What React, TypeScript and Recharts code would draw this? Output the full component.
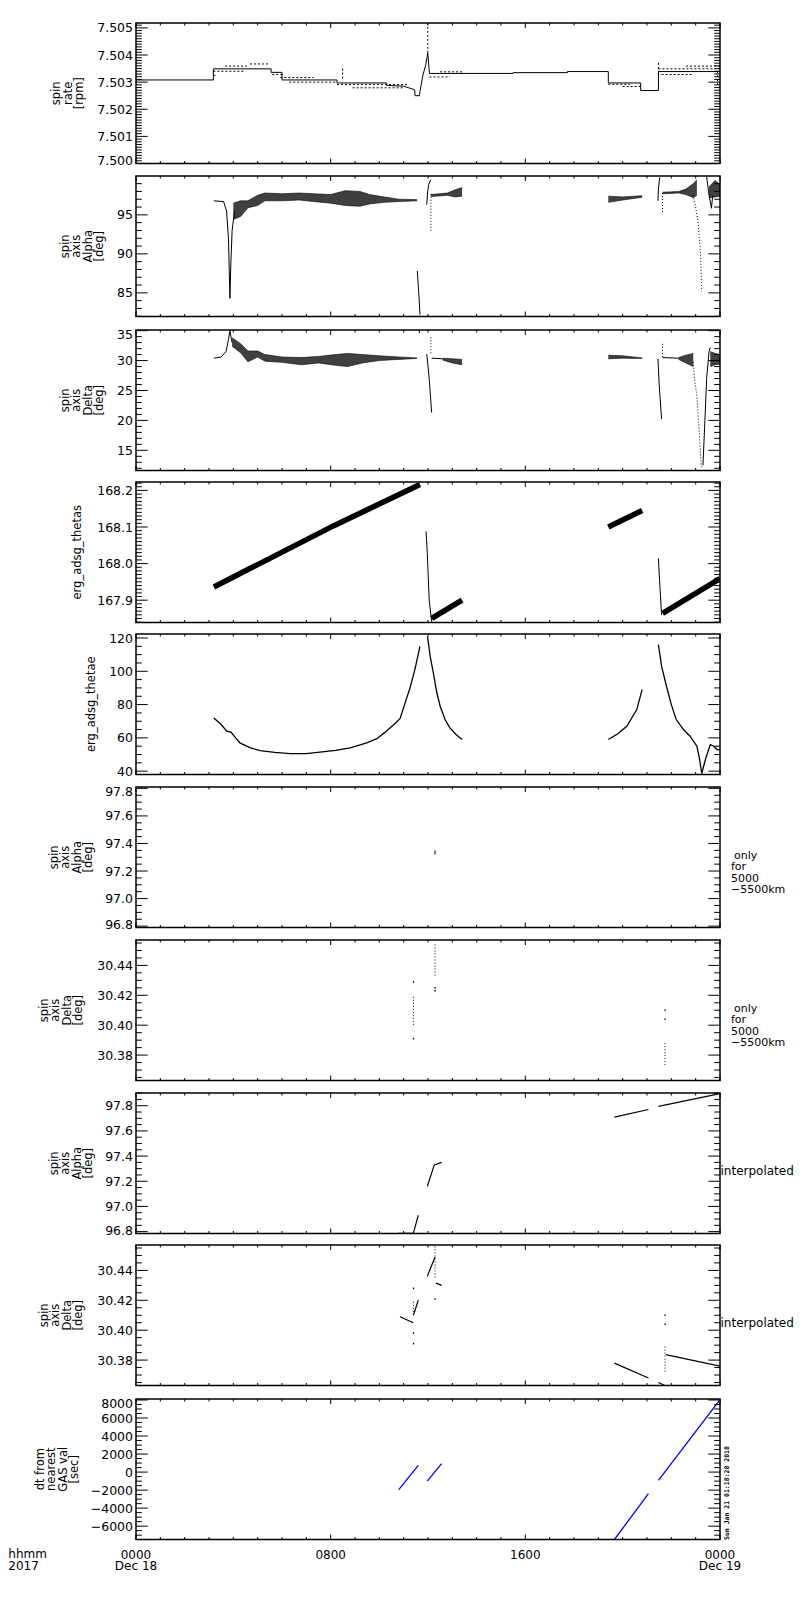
import React from "react";
import { ComposedChart, Line, Area, Scatter, XAxis, YAxis, ReferenceArea } from "recharts";

const FONT = "'DejaVu Sans', sans-serif";
const PLOT_L = 136;
const PLOT_R = 720;
const PLOT_H = 140.5;
const MT = 10;
const TOPS = [23, 176, 330, 482, 634, 787, 940, 1093, 1245, 1399];

type Pt = [number, number];
type Band = [number, number, number];
type Seg = [number, number, number, number];

// hours of the day
const HOUR_MAJOR = [0, 8, 16, 24];
const HOUR_MINOR = [1, 2, 3, 4, 5, 6, 7, 9, 10, 11, 12, 13, 14, 15, 17, 18, 19, 20, 21, 22, 23];
const HOUR_TEXT: Record<number, string[]> = {
  0: ["0000", "Dec 18"],
  8: ["0800"],
  16: ["1600"],
  24: ["0000", "Dec 19"],
};

// panel 1: spin rate [rpm]
const RATE_MAIN: Pt[] = [
  [0, 7.50308], [3.18, 7.50308], [3.18, 7.50349], [5.55, 7.50349], [5.55, 7.50336], [6.0, 7.50336],
  [6.0, 7.50308], [8.26, 7.50308], [8.26, 7.50297], [10.3, 7.50297], [10.3, 7.50288], [11.0, 7.50285],
  [11.45, 7.50272], [11.47, 7.5025], [11.65, 7.5025], [11.67, 7.50266], [11.8, 7.5033], [11.9, 7.5036],
  [11.99, 7.50408], [12.06, 7.50332], [15.5, 7.50332], [15.5, 7.50335], [17.73, 7.50335], [17.73, 7.50339],
  [19.41, 7.50339], [19.41, 7.50297], [20.74, 7.50297], [20.74, 7.50269], [21.47, 7.50269], [21.47, 7.50339],
  [24, 7.50339],
];
const RATE_DOTS: Seg[] = [
  [3.18, 7.5034, 4.48, 7.5034], [3.66, 7.50359, 4.55, 7.50359], [4.69, 7.50367, 5.5, 7.50367],
  [3.18, 7.50325, 3.3, 7.50325], [5.6, 7.50328, 6.1, 7.50328], [5.93, 7.50317, 7.3, 7.50317],
  [6.3, 7.503, 8.26, 7.503], [8.26, 7.50291, 11.2, 7.50291], [8.9, 7.50279, 11.0, 7.50279],
  [12.06, 7.50319, 12.9, 7.50319], [12.5, 7.50338, 13.4, 7.50338], [19.41, 7.50292, 20.3, 7.50292],
  [20.0, 7.50284, 20.74, 7.50284], [21.47, 7.50349, 24, 7.50349], [22.6, 7.50359, 24, 7.50359],
  [21.6, 7.50328, 22.9, 7.50328], [8.49, 7.5035, 8.49, 7.50305], [11.99, 7.50408, 11.99, 7.50518],
  [21.47, 7.50371, 21.47, 7.50339], [23.9, 7.5034, 23.9, 7.5029],
];

// panel 2: spin axis alpha [deg]
const ALPHA_BANDS: Band[][] = [
  [[4.0, 94.4, 96.5], [4.3, 94.8, 96.8], [4.6, 95.9, 96.8], [5.0, 96.2, 97.5], [5.3, 96.8, 97.8], [6.0, 96.8, 97.7],
    [6.7, 96.9, 97.8], [7.3, 96.7, 97.7], [8.0, 96.5, 97.6], [8.6, 96.2, 98.1], [9.2, 96.1, 98.0], [9.6, 96.4, 97.6],
    [10.2, 96.6, 97.3], [10.8, 96.7, 97.0], [11.55, 96.8, 96.95]],
  [[12.12, 97.35, 97.6], [12.8, 97.5, 97.8], [13.1, 97.3, 98.2], [13.4, 97.4, 98.5]],
  [[19.41, 96.6, 97.4], [20.0, 96.9, 97.3], [20.8, 97.25, 97.45]],
  [[21.64, 97.7, 97.9], [22.3, 97.8, 98.0], [22.6, 97.6, 98.3], [22.9, 97.2, 99.0], [23.05, 97.5, 99.5]],
  [[23.55, 97.2, 98.6], [23.8, 97.3, 99.4], [24, 97.4, 98.9]],
];
const ALPHA_LINES: Pt[][] = [
  [[3.2, 96.8], [3.6, 96.7], [3.72, 95.5], [3.8, 92], [3.86, 84.3], [3.9, 89], [3.95, 93], [4.05, 95.5]],
  [[11.56, 87.8], [11.62, 85], [11.67, 82.2]],
  [[11.95, 96.3], [11.98, 97.8], [12.03, 98.9], [12.11, 99.5]],
  [[21.45, 96.8], [21.47, 98.3], [21.52, 99.8]],
  [[23.45, 99.9], [23.55, 97.5], [23.65, 95.85], [23.7, 97.5]],
];
const ALPHA_DOTS: Pt[][] = [
  [[12.12, 97.7], [12.12, 92.7]],
  [[21.64, 97.8], [21.64, 95.2]],
  [[22.9, 97.5], [23.0, 96], [23.1, 94], [23.2, 90], [23.25, 85.2]],
];

// panel 3: spin axis delta [deg]
const DELTA_BANDS: Band[][] = [
  [[3.95, 32.4, 33.8], [4.3, 31.3, 32.8], [4.6, 29.8, 31.6], [5.0, 30.6, 31.6], [5.3, 29.9, 31.0], [6.0, 29.7, 30.6],
    [6.8, 29.3, 30.5], [7.5, 29.6, 30.7], [8.2, 29.2, 31.0], [8.7, 29.0, 31.2], [9.3, 29.6, 31.0], [10.0, 30.0, 30.8],
    [10.8, 30.2, 30.6], [11.55, 30.35, 30.45]],
  [[12.6, 30.1, 30.4], [13.0, 29.6, 30.3], [13.4, 29.3, 30.2]],
  [[19.41, 30.3, 30.9], [20.0, 30.4, 30.8], [20.8, 30.35, 30.45]],
  [[22.3, 30.2, 30.5], [22.6, 29.6, 30.9], [22.9, 29.0, 31.2]],
  [[23.6, 29.0, 31.5], [23.8, 29.3, 31.2], [24, 29.4, 31.0]],
];
const DELTA_LINES: Pt[][] = [
  [[3.2, 30.4], [3.5, 30.6], [3.7, 31.5], [3.8, 33.5], [3.86, 35.0], [3.92, 33.6], [3.95, 33.0]],
  [[11.62, 35.1], [11.66, 34.6]],
  [[11.95, 31.1], [12.05, 27], [12.15, 21.3]],
  [[12.15, 30.4], [12.6, 30.3]],
  [[21.45, 30.3], [21.5, 26], [21.6, 20.2]],
  [[21.64, 30.5], [22.3, 30.4]],
  [[23.3, 12.5], [23.38, 20], [23.45, 27], [23.55, 31.5], [23.6, 32.2]],
];
const DELTA_DOTS: Pt[][] = [
  [[12.12, 33.9], [12.12, 31.0]],
  [[21.64, 32.8], [21.64, 30.5]],
  [[22.9, 29.8], [22.95, 27], [23.05, 24], [23.15, 18], [23.22, 13], [23.26, 12.0]],
];

// panel 4: erg_adsg_thetas
const THETAS_BANDS: Pt[][] = [
  [[3.2, 167.936], [8.11, 168.103], [11.67, 168.216]],
  [[12.15, 167.85], [13.4, 167.9]],
  [[19.41, 168.1], [20.8, 168.145]],
  [[21.64, 167.864], [24, 167.959]],
];
const THETAS_DROPS: Pt[][] = [
  [[11.92, 168.088], [11.97, 168.03], [12.05, 167.9], [12.15, 167.841]],
  [[21.47, 168.014], [21.52, 167.95], [21.6, 167.859]],
];

// panel 5: erg_adsg_thetae
const THETAE_LINES: Pt[][] = [
  [[3.2, 72], [3.5, 68], [3.73, 64], [3.9, 63.5], [4.27, 57], [4.7, 54], [5.1, 52.4], [5.7, 51.3], [6.33, 50.6],
    [7.0, 50.6], [7.56, 51.4], [8.2, 52.5], [8.8, 54], [9.48, 57], [9.9, 59.5], [10.2, 63], [10.6, 68], [10.85, 71.5],
    [11.26, 90], [11.46, 101], [11.67, 115]],
  [[11.98, 121], [12.1, 108], [12.22, 99], [12.35, 88], [12.5, 79], [12.7, 71], [12.9, 66], [13.15, 62], [13.4, 59]],
  [[19.41, 59], [19.8, 62.5], [20.17, 67], [20.58, 77], [20.8, 89]],
  [[21.47, 116], [21.6, 103], [21.8, 91], [22.0, 80], [22.2, 71], [22.5, 65], [22.77, 61], [23.05, 55], [23.15, 48],
    [23.25, 38.6], [23.4, 47], [23.6, 56], [23.75, 55], [23.87, 53], [24, 53]],
];

// panel 6: alpha, only for 5000-5500km
const ALPHA_SEL: Seg[] = [[12.29, 97.35, 12.29, 97.32]];

// panel 7: delta, only for 5000-5500km
const DELTA_SEL_RUNS: Seg[] = [
  [11.4, 30.419, 11.4, 30.399], [12.29, 30.454, 12.29, 30.433], [21.74, 30.388, 21.74, 30.372],
];
const DELTA_SEL_DOTS: Pt[] = [
  [11.4, 30.429], [11.4, 30.391], [12.29, 30.425], [12.29, 30.423], [21.74, 30.41], [21.74, 30.404],
];

// panel 8: alpha, interpolated
const ALPHA_INT: Pt[][] = [
  [[10.77, 96.787], [11.4, 96.787], [11.6, 96.93]],
  [[11.97, 97.16], [12.26, 97.33], [12.56, 97.35]],
  [[19.66, 97.71], [21.06, 97.77]],
  [[21.47, 97.795], [24, 97.896]],
];

// panel 9: delta, interpolated
const DELTA_INT: Pt[][] = [
  [[10.85, 30.409], [11.4, 30.405]],
  [[11.4, 30.41], [11.6, 30.42]],
  [[11.97, 30.436], [12.29, 30.449]],
  [[12.33, 30.4315], [12.56, 30.43]],
  [[19.66, 30.378], [21.06, 30.368]],
  [[21.47, 30.365], [21.77, 30.3627]],
  [[21.77, 30.3837], [24, 30.376]],
];
const DELTA_INT_RUNS: Seg[] = [
  [11.4, 30.419, 11.4, 30.411], [12.29, 30.456, 12.29, 30.434], [21.74, 30.389, 21.74, 30.372],
];
const DELTA_INT_DOTS: Pt[] = [
  [11.4, 30.428], [11.4, 30.398], [11.4, 30.391], [12.29, 30.421], [21.74, 30.41], [21.74, 30.404],
];

// panel 10: dt from nearest GAS val [sec]
const DT_LINES: Pt[][] = [
  [[10.8, -1950], [11.6, 740]],
  [[11.97, -1000], [12.56, 930]],
  [[19.66, -7480], [21.06, -2400]],
  [[21.47, -920], [24, 8040]],
];

const range = (a: number, b: number, step: number) => {
  const out: number[] = [];
  const n = Math.round((b - a) / step);
  for (let i = 0; i <= n; i++) out.push(+(a + i * step).toFixed(6));
  return out;
};

const toPts = (pts: Pt[]) => pts.map(([h, v]) => ({ h, v }));

function lines(list: Pt[][], key: string, extra: Record<string, any> = {}) {
  return list.map((pts, i) => (
    <Line
      key={key + i}
      data={toPts(pts)}
      dataKey="v"
      type="linear"
      dot={false}
      activeDot={false}
      stroke="#000"
      strokeWidth={1}
      isAnimationActive={false}
      {...extra}
    />
  ));
}

const segs = (list: Seg[], key: string, extra: Record<string, any> = {}) =>
  lines(list.map(([a, b, c, d]) => [[a, b], [c, d]] as Pt[]), key, extra);

function bands(list: Band[][], key: string) {
  return list.map((b, i) => (
    <Area
      key={key + i}
      data={b.map(([h, lo, hi]) => ({ h, r: [lo, hi] }))}
      dataKey="r"
      type="linear"
      stroke="#000"
      strokeWidth={0.6}
      fill="#000"
      fillOpacity={0.75}
      dot={false}
      activeDot={false}
      isAnimationActive={false}
    />
  ));
}

function dots(list: Pt[], key: string) {
  return (
    <Scatter
      key={key}
      data={toPts(list)}
      dataKey="v"
      isAnimationActive={false}
      shape={(p: any) => <rect x={p.cx - 0.6} y={p.cy - 0.8} width={1.3} height={1.6} fill="#000" />}
    />
  );
}

type PanelProps = {
  top: number;
  domain: [number, number];
  major: number[];
  minor: number[];
  fmt: (v: number) => string;
  last?: boolean;
  children: React.ReactNode;
};

function Panel({ top, domain, major, minor, fmt, last = false, children }: PanelProps) {
  const xh = last ? 60 : 8;
  const height = MT + PLOT_H + xh;
  const pTop = MT;
  const pBot = MT + PLOT_H;
  const tol = (minor[1] - minor[0]) * 0.1;

  const yTick = (props: any) => {
    const { y, payload } = props;
    const isMajor = major.some((m) => Math.abs(m - payload.value) < tol);
    const len = isMajor ? 11.7 : 5.8;
    // keep edge labels inside the frame, as the original plot does
    const ty = Math.min(Math.max(y, pTop + 4), pBot - 3);
    return (
      <g>
        <line x1={PLOT_L} x2={PLOT_L + len} y1={y} y2={y} stroke="#000" strokeWidth={1} />
        <line x1={PLOT_R - len} x2={PLOT_R} y1={y} y2={y} stroke="#000" strokeWidth={1} />
        {isMajor && (
          <text x={PLOT_L - 3} y={ty} dy="0.36em" textAnchor="end" fontFamily={FONT} fontSize={12.5} fill="#000">
            {fmt(payload.value)}
          </text>
        )}
      </g>
    );
  };

  const xTick = (props: any) => {
    const { x, payload } = props;
    const isMajor = HOUR_MAJOR.includes(payload.value);
    const len = isMajor ? 5 : 2.5;
    const txt = HOUR_TEXT[payload.value];
    return (
      <g>
        <line x1={x} x2={x} y1={pBot - len} y2={pBot} stroke="#000" strokeWidth={1} />
        <line x1={x} x2={x} y1={pTop} y2={pTop + len} stroke="#000" strokeWidth={1} />
        {last && txt &&
          txt.map((t, i) => (
            <text key={i} x={x} y={pBot + 19.3 + i * 11.5} textAnchor="middle" fontFamily={FONT} fontSize={12} fill="#000">
              {t}
            </text>
          ))}
      </g>
    );
  };

  return (
    <div style={{ position: "absolute", left: 0, top: top - MT }}>
      <ComposedChart
        width={800}
        height={height}
        style={{ overflow: "visible" }}
        margin={{ top: MT, right: 800 - PLOT_R, bottom: 0, left: PLOT_L - 40 }}
      >
        <XAxis
          type="number"
          dataKey="h"
          domain={[0, 24]}
          allowDataOverflow
          ticks={[...HOUR_MAJOR, ...HOUR_MINOR]}
          interval={0}
          height={xh}
          tick={xTick}
          tickLine={false}
          axisLine={false}
        />
        <YAxis
          type="number"
          domain={domain}
          allowDataOverflow
          ticks={minor}
          interval={0}
          width={40}
          tick={yTick}
          tickLine={false}
          axisLine={false}
        />
        <ReferenceArea x1={0} x2={24} y1={domain[0]} y2={domain[1]} fill="none" stroke="#000" strokeWidth={1.5} />
        {children}
      </ComposedChart>
    </div>
  );
}

const TITLES: { lines: string[]; bx: number }[] = [
  { lines: ["spin", "rate", "[rpm]"], bx: 83 },
  { lines: ["spin", "axis", "Alpha", "[deg]"], bx: 103 },
  { lines: ["spin", "axis", "Delta", "[deg]"], bx: 103 },
  { lines: ["erg_adsg_thetas"], bx: 81 },
  { lines: ["erg_adsg_thetae"], bx: 95 },
  { lines: ["spin", "axis", "Alpha", "[deg]"], bx: 92 },
  { lines: ["spin", "axis", "Delta", "[deg]"], bx: 82 },
  { lines: ["spin", "axis", "Alpha", "[deg]"], bx: 92 },
  { lines: ["spin", "axis", "Delta", "[deg]"], bx: 82 },
  { lines: ["dt from", "nearest", "GAS val", "[sec]"], bx: 78 },
];
const NOTE_ONLY = ["only", "for", "5000", "\u22125500km"];

function Overlay() {
  return (
    <svg width={800} height={1600} style={{ position: "absolute", left: 0, top: 0, pointerEvents: "none" }}>
      {TITLES.map((t, p) => {
        const cy = TOPS[p] + PLOT_H / 2;
        return t.lines.map((s, i) => {
          const x = t.bx - (t.lines.length - 1 - i) * 11.4;
          return (
            <text
              key={p + "-" + i}
              transform={`translate(${x},${cy}) rotate(-90)`}
              textAnchor="middle"
              fontFamily={FONT}
              fontSize={11.5}
              fill="#000"
            >
              {s}
            </text>
          );
        });
      })}
      {[5, 6].map((p) =>
        NOTE_ONLY.map((s, i) => (
          <text
            key={"n" + p + i}
            x={i === 0 ? 734 : 731}
            y={TOPS[p] + [71.5, 83, 94.5, 106][i]}
            fontFamily={FONT}
            fontSize={11}
            fill="#000"
          >
            {s}
          </text>
        ))
      )}
      {[7, 8].map((p) => (
        <text key={"i" + p} x={720.5} y={TOPS[p] + 82} fontFamily={FONT} fontSize={12} fill="#000">
          interpolated
        </text>
      ))}
      <text x={8.3} y={1558.3} fontFamily={FONT} fontSize={12} fill="#000">hhmm</text>
      <text x={8.3} y={1569.8} fontFamily={FONT} fontSize={12} fill="#000">2017</text>
      <text
        transform="translate(729,1540) rotate(-90)"
        fontFamily="'DejaVu Sans Mono', monospace"
        fontSize={6.5}
        fontWeight="bold"
        fill="#000"
      >
        Sun Jan 21 01:18:28 2018
      </text>
    </svg>
  );
}

const f3 = (v: number) => v.toFixed(3);
const f0 = (v: number) => String(Math.round(v));
const f1 = (v: number) => v.toFixed(1);
const f2 = (v: number) => v.toFixed(2);
const fDt = (v: number) => (v < 0 ? "\u2212" + String(Math.abs(v)) : String(v));
const DASH = { strokeDasharray: "2 2" };
const DOTTED = { strokeDasharray: "1 2" };

export default function App() {
  return (
    <div style={{ position: "absolute", left: 0, top: 0, width: 800, height: 1600, background: "#fff" }}>
      <Panel top={TOPS[0]} domain={[7.5, 7.50518]} major={[7.5, 7.501, 7.502, 7.503, 7.504, 7.505]} minor={range(7.5, 7.5051, 0.0001)} fmt={f3}>
        {lines([RATE_MAIN], "rm")}
        {segs(RATE_DOTS, "rd", DASH)}
      </Panel>
      <Panel top={TOPS[1]} domain={[81.97, 99.98]} major={[85, 90, 95]} minor={range(82, 99, 1)} fmt={f0}>
        {bands(ALPHA_BANDS, "ab")}
        {lines(ALPHA_LINES, "al")}
        {lines(ALPHA_DOTS, "ad", DOTTED)}
      </Panel>
      <Panel top={TOPS[2]} domain={[11.63, 35.11]} major={[15, 20, 25, 30, 35]} minor={range(12, 35, 1)} fmt={f0}>
        {bands(DELTA_BANDS, "db")}
        {lines(DELTA_LINES, "dl")}
        {lines(DELTA_DOTS, "dd", DOTTED)}
      </Panel>
      <Panel top={TOPS[3]} domain={[167.839, 168.223]} major={[167.9, 168.0, 168.1, 168.2]} minor={range(167.84, 168.22, 0.01)} fmt={f1}>
        {lines(THETAS_BANDS, "tb", { strokeWidth: 5.5 })}
        {lines(THETAS_DROPS, "td")}
      </Panel>
      <Panel top={TOPS[4]} domain={[38, 122.4]} major={[40, 60, 80, 100, 120]} minor={range(40, 120, 5)} fmt={f0}>
        {lines(THETAE_LINES, "te", { strokeWidth: 1.3 })}
      </Panel>
      <Panel top={TOPS[5]} domain={[96.79, 97.81]} major={[96.8, 97.0, 97.2, 97.4, 97.6, 97.8]} minor={range(96.8, 97.8, 0.05)} fmt={f1}>
        {segs(ALPHA_SEL, "as")}
      </Panel>
      <Panel top={TOPS[6]} domain={[30.363, 30.457]} major={[30.38, 30.4, 30.42, 30.44]} minor={range(30.365, 30.455, 0.005)} fmt={f2}>
        {segs(DELTA_SEL_RUNS, "dsr", DOTTED)}
        {dots(DELTA_SEL_DOTS, "dsd")}
      </Panel>
      <Panel top={TOPS[7]} domain={[96.785, 97.901]} major={[96.8, 97.0, 97.2, 97.4, 97.6, 97.8]} minor={range(96.8, 97.9, 0.05)} fmt={f1}>
        {lines(ALPHA_INT, "ai", { strokeWidth: 1.2 })}
      </Panel>
      <Panel top={TOPS[8]} domain={[30.363, 30.457]} major={[30.38, 30.4, 30.42, 30.44]} minor={range(30.365, 30.455, 0.005)} fmt={f2}>
        {lines(DELTA_INT, "di", { strokeWidth: 1.2 })}
        {segs(DELTA_INT_RUNS, "dir", DOTTED)}
        {dots(DELTA_INT_DOTS, "did")}
      </Panel>
      <Panel top={TOPS[9]} domain={[-7480, 8110]} major={[-6000, -4000, -2000, 0, 2000, 4000, 6000, 8000]} minor={range(-7000, 8000, 500)} fmt={fDt} last>
        {lines(DT_LINES, "dt", { stroke: "#0000ff", strokeWidth: 1.3 })}
      </Panel>
      <Overlay />
    </div>
  );
}
